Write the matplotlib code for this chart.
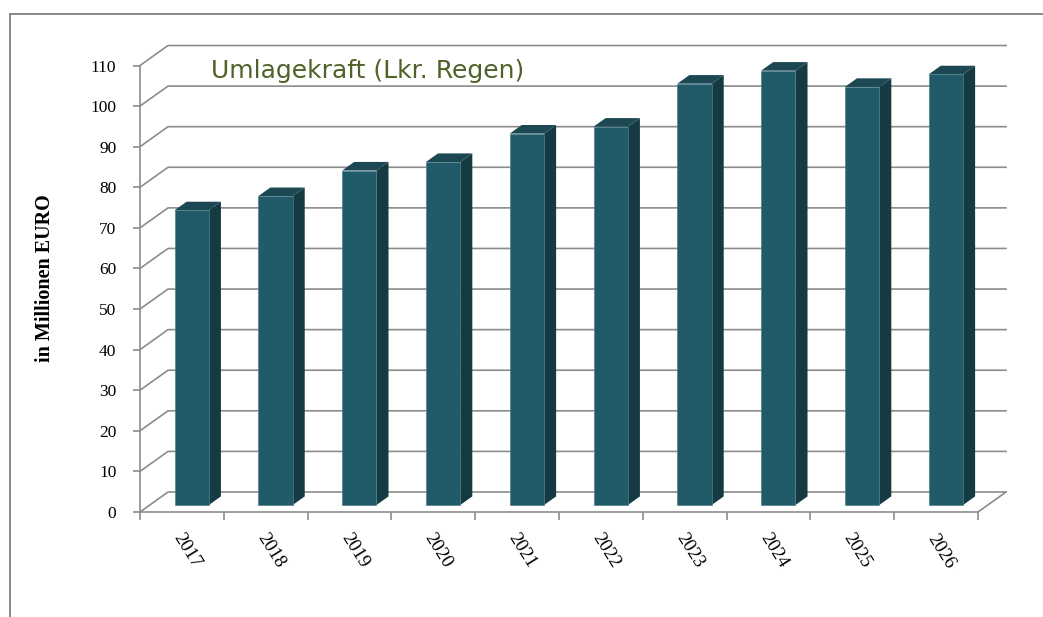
import matplotlib
matplotlib.use("Agg")
import matplotlib.pyplot as plt
from matplotlib.lines import Line2D

# ---- data ----
years = ["2017", "2018", "2019", "2020", "2021", "2022", "2023", "2024", "2025", "2026"]
values = [72.6, 76.1, 82.4, 84.5, 91.5, 93.2, 103.8, 107.0, 103.0, 106.1]
yticks = list(range(0, 111, 10))
title = "Umlagekraft (Lkr. Regen)"
ylabel = "in Millionen EURO"

# ---- geometry / style ----
W, H = 1043, 617
px_cat = 83.8          # pixels per category
px_val = 4.059         # pixels per value unit
x0_px, y0_px = 140, 512
DX = 28 / px_cat       # depth offset in category units
DY = 20 / px_val       # depth offset in value units
xmax, ymax = 10.4, 116

grid_c = "#8c8c8c"
front_c = "#215a68"
side_c = "#163a42"
top_c = "#1c4853"

fig = plt.figure(figsize=(W / 100, H / 100), dpi=100)
ax = fig.add_axes([x0_px / W, (H - y0_px) / H, xmax * px_cat / W, ymax * px_val / H])
ax.set_xlim(0, xmax)
ax.set_ylim(0, ymax)
ax.patch.set_alpha(0)

# frame of chart area
fig.add_artist(Line2D([10 / W, 1.0], [1 - 14 / H, 1 - 14 / H], color="#8a8a8a", lw=1.4, transform=fig.transFigure))
fig.add_artist(Line2D([10 / W, 10 / W], [1 - 14 / H, 0], color="#8a8a8a", lw=1.4, transform=fig.transFigure))

n = len(years)
# gridlines: back wall + left wall diagonals
for v in yticks:
    ax.plot([0, DX, n + DX], [v, v + DY, v + DY], color=grid_c, lw=1.2, zorder=1, clip_on=False)
# floor right edge
ax.plot([n, n + DX], [0, DY], color=grid_c, lw=1.2, zorder=1, clip_on=False)

# bars
bw = 0.41
f0, f1 = 0.35, 0.78  # depth fractions of bar front / back
for i, v in enumerate(values):
    xl = i + 0.5 - bw / 2 + f0 * DX
    xr = xl + bw
    yb = f0 * DY
    yt = v + f0 * DY
    ddx = (f1 - f0) * DX
    ddy = (f1 - f0) * DY
    ax.fill([xr, xr + ddx, xr + ddx, xr], [yb, yb + ddy, yt + ddy, yt], color=side_c, zorder=3, lw=0)
    ax.fill([xl, xr, xr + ddx, xl + ddx], [yt, yt, yt + ddy, yt + ddy], color=top_c, zorder=3, lw=0)
    ax.fill([xl, xr, xr, xl], [yb, yb, yt, yt], facecolor=front_c, edgecolor="#4d7f8a", lw=0.5, zorder=4)

# axes styling
for s in ["top", "right"]:
    ax.spines[s].set_visible(False)
ax.spines["left"].set_bounds(0, 110)
ax.spines["bottom"].set_bounds(0, n)
for s in ["left", "bottom"]:
    ax.spines[s].set_color(grid_c)
    ax.spines[s].set_linewidth(1.2)
    ax.spines[s].set_zorder(2)

ax.set_yticks(yticks)
ax.set_yticklabels([str(t) for t in yticks], family="Liberation Serif", fontsize=12.5)
ax.tick_params(axis="y", length=5, width=1.2, color=grid_c, pad=12)
ax.set_xticks(range(0, n + 1))
ax.set_xticklabels([])
ax.tick_params(axis="x", length=6, width=1.2, color=grid_c)

for i, y in enumerate(years):
    ax.text(i + 0.56, -9.6, y, rotation=-58, ha="center", va="center",
            family="Liberation Serif", fontsize=13.5, clip_on=False)

fig.text(45 / W, 1 - 278 / H, ylabel, rotation=90, ha="center", va="center",
         family="Liberation Serif", fontweight="bold", fontsize=14.5)
fig.text(368 / W, 1 - 71 / H, title, ha="center", va="center",
         family="DejaVu Sans", fontsize=18, color="#4f6228")

fig.savefig("out.png", dpi=100)
